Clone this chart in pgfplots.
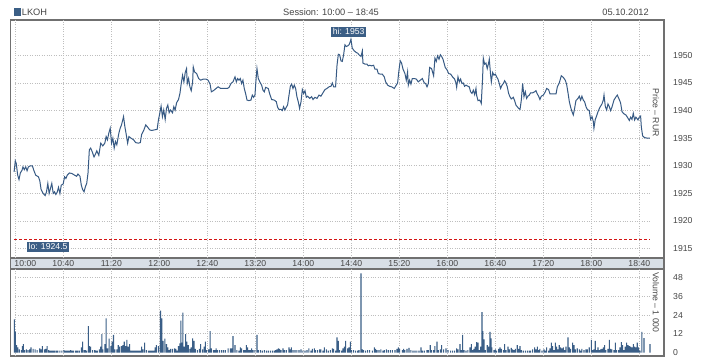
\documentclass[border=0pt]{standalone}
\usepackage{fontspec}
\setmainfont{Liberation Sans}
\usepackage{pgfplots}
\pgfplotsset{compat=1.18}
\definecolor{linec}{RGB}{55,90,132}
\definecolor{barc}{RGB}{58,94,135}
\definecolor{boxc}{RGB}{59,94,133}
\definecolor{framec}{RGB}{112,112,112}
\definecolor{gridc}{RGB}{190,190,190}
\definecolor{bandc}{RGB}{216,223,230}
\definecolor{txt}{RGB}{70,70,70}
\definecolor{lored}{RGB}{210,20,20}
\newcommand{\tf}{\fontsize{8.7}{9}\selectfont}
\newcommand{\hf}{\fontsize{9.3}{10}\selectfont}
\tikzset{gridl/.style={gridc, line width=0.8bp, dash pattern=on 1bp off 1.4bp}}
\pgfplotsset{
  panel/.style={
    scale only axis, width=653.5bp, xmin=-4, xmax=540.6,
    axis line style={draw=framec, line width=1.1bp},
    major tick length=0pt, tick style={draw=none},
    yticklabel pos=right,
    yticklabel style={anchor=west, inner sep=0pt, xshift=9bp, /pgf/number format/1000 sep={}},
    ticklabel style={font=\tf, text=txt},
    /pgf/number format/assume math mode=true,
  },
}
\begin{document}
\begin{tikzpicture}[x=1bp,y=1bp]
\fill[white] (0,0) rectangle (718,360);
\path[use as bounding box] (0,0) rectangle (718,360);
\fill[bandc] (10.5,91) rectangle (664,102);
\draw[framec, line width=1.1bp] (10.5,91) rectangle (664,102);
\fill[boxc] (14,344.3) rectangle (21.3,351.7);
\node[anchor=base west, inner sep=0, font=\hf, text=txt] at (21.7,344.3) {LKOH};
\node[anchor=base, inner sep=0, font=\hf, text=txt] at (331,344.3) {Session: 10:00 – 18:45};
\node[anchor=base east, inner sep=0, font=\hf, text=txt] at (649,344.3) {05.10.2012};

\begin{axis}[panel, at={(10.5bp,102bp)}, anchor=south west, height=238bp,
  ymin=1913.3, ymax=1956.4,
  xtick={40,80,120,160,200,240,280,320,360,400,440,480,520},
  xticklabels={10:40,11:20,12:00,12:40,13:20,14:00,14:40,15:20,16:00,16:40,17:20,18:00,18:40},
  extra x ticks={0}, extra x tick labels={10:00},
  extra x tick style={xticklabel style={xshift=10bp}},
  xticklabel style={anchor=north, inner sep=0pt, yshift=-2.2bp},
  ytick={1915,1920,1925,1930,1935,1940,1945,1950},
]
\pgfplotsinvokeforeach{0,40,80,120,160,200,240,280,320,360,400,440,480,520}{
  \draw[gridl] (axis cs:#1,1913.3) -- (axis cs:#1,1956.4);}
\pgfplotsinvokeforeach{1915,1920,1925,1930,1935,1940,1945,1950}{
  \draw[gridl] (axis cs:0,#1) -- (axis cs:529,#1);}
\draw[lored, line width=1bp, dash pattern=on 3bp off 2bp] (axis cs:-1,1916.7) -- (axis cs:529,1916.7);
\addplot[linec, line width=1bp, no markers, sharp plot] table {
x y
-1.0 1928.9
0.0 1930.9
0.8 1930.4
2.0 1928.3
3.1 1927.5
4.2 1928.7
5.6 1929.2
6.4 1929.8
7.5 1929.3
8.7 1929.8
9.8 1929.1
10.9 1929.8
12.6 1930.0
14.2 1930.0
15.4 1929.2
17.0 1928.3
19.3 1928.0
20.4 1927.3
21.5 1925.7
23.2 1925.0
24.9 1924.6
26.0 1925.3
27.1 1926.8
28.2 1925.0
29.3 1925.9
30.4 1926.8
31.6 1925.0
32.7 1925.3
33.8 1924.8
34.9 1925.2
36.0 1926.1
37.2 1925.0
38.3 1926.5
39.9 1926.7
41.1 1928.0
42.2 1927.7
43.3 1928.3
45.0 1928.7
47.2 1928.6
49.4 1928.3
51.1 1928.1
52.2 1928.5
53.9 1928.1
55.0 1926.5
56.1 1925.7
57.3 1925.3
58.4 1926.2
59.5 1926.8
60.6 1928.7
61.7 1932.9
62.8 1933.2
64.0 1932.6
65.6 1931.6
66.8 1932.1
67.9 1932.7
69.6 1931.9
71.2 1934.1
72.9 1933.6
74.6 1934.1
75.7 1935.3
76.8 1934.7
77.9 1935.9
79.1 1936.8
80.2 1934.1
81.3 1935.0
82.4 1933.2
83.5 1934.4
84.6 1933.8
86.3 1935.9
87.4 1936.8
88.5 1937.4
90.2 1938.9
91.3 1937.1
92.5 1935.6
93.6 1934.1
94.7 1935.3
96.4 1935.0
98.6 1934.7
100.3 1934.2
102.5 1934.1
104.2 1934.2
105.3 1935.7
107.0 1936.4
108.7 1937.4
110.3 1937.0
112.0 1936.5
113.7 1936.4
115.9 1936.5
118.2 1936.6
119.3 1938.3
120.4 1939.5
121.5 1940.8
122.6 1938.9
123.7 1940.1
124.9 1938.4
126.0 1940.4
127.1 1941.0
128.2 1939.6
129.3 1940.1
131.0 1939.6
132.1 1940.7
133.2 1940.1
134.4 1941.4
136.0 1942.0
137.2 1943.1
138.3 1944.9
139.4 1946.4
140.5 1945.2
141.6 1946.9
142.7 1947.6
143.3 1944.9
144.4 1945.8
145.5 1944.3
146.6 1943.6
147.8 1945.2
148.3 1947.9
149.4 1947.0
151.1 1946.7
152.8 1945.8
154.5 1945.5
156.7 1945.7
158.9 1945.7
160.6 1945.5
162.3 1944.8
163.4 1943.4
165.1 1943.6
167.3 1944.0
169.0 1944.3
171.2 1944.0
174.0 1944.0
176.8 1944.0
178.1 1944.2
179.7 1944.9
181.4 1945.2
183.1 1946.1
184.2 1945.2
185.3 1945.8
186.4 1945.5
187.5 1945.8
188.6 1944.9
189.7 1945.5
190.8 1944.0
191.9 1943.1
193.1 1941.9
194.7 1941.8
196.4 1941.9
197.5 1942.8
198.6 1942.4
199.7 1942.8
200.8 1946.1
201.4 1947.6
202.5 1945.8
204.2 1945.0
205.3 1944.6
206.4 1943.7
207.5 1943.4
208.6 1944.2
210.8 1944.0
211.9 1943.1
213.6 1942.0
215.8 1941.9
217.5 1941.6
218.6 1940.6
219.7 1940.2
221.4 1940.2
222.5 1940.0
223.6 1940.7
224.7 1940.1
225.8 1940.6
226.9 1941.0
228.1 1942.8
229.2 1944.4
230.3 1944.8
231.4 1944.0
232.5 1944.6
233.6 1944.0
234.7 1942.5
235.8 1941.6
236.9 1940.4
238.1 1941.6
239.2 1943.8
240.3 1943.1
241.4 1943.6
242.5 1942.4
243.6 1942.6
245.3 1942.2
246.9 1942.5
248.1 1942.0
249.7 1942.4
251.4 1942.2
253.1 1942.8
254.7 1942.6
255.8 1943.0
256.9 1943.4
258.1 1943.8
259.7 1944.0
261.4 1944.3
263.1 1944.4
264.2 1945.0
265.3 1944.3
266.9 1944.3
268.1 1948.2
269.2 1950.2
270.3 1950.1
271.4 1949.0
272.5 1948.9
273.6 1950.1
274.7 1951.9
275.8 1951.6
276.9 1951.7
278.1 1951.9
279.2 1952.5
279.7 1952.9
280.8 1951.3
282.5 1950.8
284.2 1950.5
285.3 1950.4
286.4 1950.1
288.1 1949.8
289.2 1950.8
289.7 1948.6
291.4 1948.4
293.1 1948.4
294.2 1948.1
295.3 1948.2
296.9 1948.1
298.6 1948.2
299.7 1947.5
301.4 1947.5
302.5 1946.7
304.2 1946.6
305.8 1946.6
307.5 1946.1
308.6 1945.2
310.3 1944.6
311.9 1944.4
313.6 1944.3
315.8 1944.0
316.9 1944.4
318.6 1945.0
319.7 1947.3
320.8 1949.0
321.9 1948.6
323.1 1947.5
324.7 1946.7
325.8 1945.5
326.9 1947.0
327.5 1944.6
328.6 1945.5
329.7 1944.8
330.8 1945.8
332.5 1945.8
334.2 1945.7
335.8 1945.2
337.5 1945.5
339.2 1945.8
340.8 1945.0
341.9 1944.9
343.1 1944.3
344.2 1944.9
345.3 1947.8
346.9 1947.6
348.6 1946.3
349.7 1949.5
350.8 1948.9
351.9 1949.9
353.1 1949.3
354.2 1950.1
355.3 1949.8
356.4 1949.3
358.3 1947.8
360.0 1947.3
361.1 1946.7
362.8 1946.6
364.4 1946.1
366.1 1945.7
367.2 1945.0
367.8 1944.2
368.9 1946.1
370.0 1945.2
371.1 1945.7
372.2 1944.9
373.3 1945.0
374.4 1944.4
375.6 1944.6
377.2 1944.4
378.3 1944.3
379.4 1943.4
380.6 1943.1
381.7 1943.7
382.8 1942.9
383.9 1944.0
384.4 1942.8
385.6 1941.8
386.7 1941.9
387.8 1941.6
388.3 1941.3
389.4 1945.8
390.0 1949.5
391.1 1948.4
392.2 1948.6
393.3 1947.6
394.4 1948.6
395.0 1949.3
396.1 1946.4
396.7 1945.2
397.8 1946.9
398.9 1946.4
400.0 1946.6
401.1 1946.1
402.2 1945.7
403.3 1944.9
404.4 1944.0
405.6 1944.6
406.7 1944.9
407.8 1945.4
408.9 1945.0
410.0 1944.3
411.1 1943.1
412.2 1942.5
413.3 1942.1
415.0 1942.4
416.1 1941.8
417.2 1941.0
418.3 1940.7
419.4 1940.4
420.6 1940.2
421.7 1941.9
422.8 1944.9
423.9 1942.5
425.0 1943.4
426.1 1942.2
427.2 1942.6
428.3 1942.8
429.4 1943.2
431.1 1943.2
432.8 1943.4
433.9 1943.6
435.0 1943.0
436.1 1942.6
437.2 1942.0
438.3 1942.6
440.0 1942.8
441.7 1943.4
442.8 1944.0
444.4 1943.8
445.6 1943.0
447.8 1943.0
450.6 1943.0
451.7 1944.3
453.3 1945.0
455.0 1946.3
456.7 1946.0
458.3 1945.5
459.4 1944.8
460.6 1943.2
461.7 1941.6
462.8 1940.6
463.9 1939.8
465.0 1939.2
466.1 1940.4
467.2 1941.8
468.9 1942.2
470.0 1942.6
471.1 1941.9
472.2 1942.6
473.3 1941.9
474.4 1941.6
475.6 1940.7
476.7 1940.2
478.3 1940.0
479.4 1938.4
480.6 1938.9
481.7 1938.0
482.2 1936.8
483.3 1938.4
484.4 1939.0
485.6 1939.8
487.2 1940.6
488.9 1941.2
490.0 1941.9
490.6 1942.8
491.7 1940.7
492.8 1940.1
493.9 1941.2
495.0 1940.7
496.1 1940.0
497.2 1940.6
498.9 1941.9
500.6 1942.5
501.7 1942.8
503.3 1942.0
504.4 1941.4
505.6 1939.8
507.2 1939.4
508.9 1939.2
510.6 1938.6
511.7 1938.2
512.8 1938.8
513.9 1938.4
515.0 1939.5
516.1 1938.3
517.2 1938.8
518.9 1938.3
520.0 1938.8
521.1 1939.0
521.7 1937.0
522.8 1935.4
524.4 1935.1
526.7 1935.0
528.9 1935.0
};
\node[fill=boxc, text=white, font=\tf, inner xsep=2bp, inner ysep=1bp, text height=6.4bp, text depth=1.6bp, anchor=south] at (axis cs:277.8,1953.3) {hi: 1953};
\node[fill=boxc, text=white, font=\tf, inner xsep=2bp, inner ysep=1bp, text height=6.4bp, text depth=1.6bp] at (axis cs:27.3,1915.3) {lo: 1924.5};
\node[rotate=-90, font=\tf, text=txt, inner sep=0pt] at (rel axis cs:0.9878,0.611) {Price – RUR};
\end{axis}

\begin{axis}[panel, at={(10.5bp,4bp)}, anchor=south west, height=87bp,
  ymin=-2.1, ymax=53.3, xtick=\empty,
  ytick={0,12,24,36,48},
]
\pgfplotsinvokeforeach{0,40,80,120,160,200,240,280,320,360,400,440,480,520}{
  \draw[gridl] (axis cs:#1,-2.1) -- (axis cs:#1,53.3);}
\pgfplotsinvokeforeach{12,24,36,48}{
  \draw[gridl] (axis cs:0,#1) -- (axis cs:529,#1);}
\addplot[ybar, bar width=0.9, fill=barc, draw=none] table {
x y
-0.8 21.2
0.0 13.4
1.1 4.9
2.2 3.4
3.4 2.1
5.0 1.7
5.9 4.2
6.7 5.5
7.8 1.7
9.2 2.1
10.6 1.7
12.0 2.1
13.1 3.4
14.8 2.5
16.5 2.1
18.2 1.7
20.4 2.8
21.5 2.1
22.6 4.2
24.3 2.1
25.4 2.5
26.5 4.2
27.7 1.7
28.8 1.3
29.9 1.3
31.0 1.3
32.1 1.3
33.2 1.3
34.4 1.3
35.5 1.3
37.2 1.3
38.8 1.3
40.5 1.7
41.6 1.3
42.7 1.3
43.9 1.3
45.0 1.3
46.1 1.7
47.2 1.3
48.3 1.3
50.0 1.3
51.1 1.3
52.2 1.3
53.4 1.3
55.0 3.4
56.1 7.0
57.3 1.7
58.4 1.7
59.5 1.3
60.9 17.0
61.7 4.2
62.8 3.8
64.5 1.7
66.2 1.7
67.3 1.3
68.4 1.3
70.1 2.1
71.2 3.8
72.1 11.9
72.9 2.1
74.6 5.5
75.7 21.9
76.8 2.8
78.2 8.9
79.6 4.2
80.7 7.0
81.8 11.3
83.0 2.1
84.6 2.1
85.8 4.9
86.9 3.8
88.5 4.2
89.7 4.9
90.8 7.0
91.9 4.2
93.0 8.1
94.1 3.8
95.3 5.5
96.4 1.3
97.5 1.3
98.6 1.3
99.7 1.3
100.8 1.3
102.0 1.3
103.1 1.3
104.2 1.3
105.3 3.8
106.4 2.1
107.8 6.4
109.2 1.7
110.9 1.3
112.0 1.3
113.1 1.3
114.2 1.3
115.4 1.3
116.5 3.4
117.6 4.9
119.3 4.2
121.0 26.8
122.1 21.9
123.2 7.6
124.6 8.9
126.0 5.5
127.1 3.4
128.2 1.7
129.3 2.5
131.0 2.5
132.7 2.8
133.8 2.5
134.9 1.3
136.0 4.2
137.2 5.9
138.0 20.4
138.8 6.4
139.7 25.5
140.8 3.8
141.9 11.9
143.0 7.0
144.1 4.9
145.5 2.5
146.6 3.4
147.8 9.1
148.9 7.6
150.0 2.5
151.7 1.7
153.4 2.5
154.5 5.5
156.1 2.1
157.3 3.8
158.4 7.0
159.5 1.7
161.2 2.1
162.3 13.8
163.4 2.8
165.1 1.7
166.2 1.7
167.3 2.8
168.4 1.7
170.1 1.7
171.8 1.7
173.5 1.7
175.1 1.7
177.4 2.8
179.2 2.8
180.3 2.8
181.4 10.6
183.1 4.9
184.7 1.7
186.4 1.3
187.5 3.4
188.6 2.8
190.3 1.7
191.4 1.7
192.5 4.9
193.6 3.4
194.7 1.7
195.8 1.7
196.9 2.8
198.1 1.7
199.7 1.7
201.4 11.3
202.5 1.7
204.2 1.7
205.8 1.3
207.5 1.7
209.2 1.3
210.8 1.3
212.5 1.3
214.2 1.3
215.8 1.3
216.9 1.7
218.1 2.1
219.2 2.8
220.3 2.5
221.4 1.7
223.1 2.8
224.2 1.7
225.8 1.7
228.1 3.4
229.2 2.1
230.0 3.4
231.4 1.7
233.1 1.7
234.7 1.7
236.4 1.7
238.1 2.1
239.7 1.3
241.4 1.3
243.1 1.7
244.7 2.8
246.4 1.3
247.5 2.5
249.2 2.8
250.3 1.7
251.9 1.7
253.6 2.1
254.7 2.1
256.4 1.3
257.5 3.4
259.2 2.1
260.8 1.3
262.5 1.7
264.2 2.8
265.3 2.5
266.9 1.3
268.1 9.8
269.2 7.6
270.3 1.7
271.9 1.3
273.1 2.8
274.2 3.8
275.3 7.6
276.9 2.8
278.1 3.4
279.2 7.0
280.3 1.7
281.9 1.7
283.6 1.3
285.3 1.3
286.4 1.7
288.1 50.5
289.2 2.1
290.3 1.7
291.9 1.3
293.6 1.7
295.3 1.7
297.5 1.3
299.2 3.4
300.3 2.5
301.4 1.7
303.1 1.7
304.7 2.1
306.4 1.3
307.5 1.7
309.2 2.1
310.8 1.7
312.5 1.7
314.2 1.7
316.4 1.7
318.1 2.5
319.2 3.4
320.3 2.5
322.5 1.7
323.6 2.5
324.7 1.7
326.4 2.5
328.1 3.0
329.7 1.7
331.4 1.3
333.1 1.3
334.7 1.3
336.4 1.3
338.1 3.4
339.2 1.3
340.8 1.3
343.1 1.7
344.2 1.7
345.8 4.9
346.9 1.7
348.6 1.7
349.7 4.2
351.4 7.0
352.5 1.7
354.2 2.1
355.3 4.9
356.9 2.1
358.9 2.8
360.6 1.7
362.8 1.3
364.4 1.3
366.1 1.3
367.8 2.8
368.9 2.1
370.6 5.5
371.7 1.7
372.8 11.3
373.9 1.7
375.6 1.3
377.2 1.7
378.9 3.4
380.0 5.5
381.1 1.7
382.2 2.5
383.3 3.8
384.4 6.8
385.6 6.4
386.7 1.7
387.8 3.8
388.9 25.9
389.7 13.8
390.6 8.5
391.7 1.7
393.3 4.9
394.4 3.8
395.6 13.2
396.4 9.1
397.2 3.4
398.9 1.7
400.0 2.1
401.1 1.3
402.8 2.5
403.9 3.4
405.0 2.5
406.7 1.7
407.8 5.5
408.9 1.7
410.6 3.8
411.7 2.1
413.3 3.0
414.4 2.1
415.6 1.7
416.7 2.5
418.3 4.9
419.4 2.5
420.6 4.2
421.7 1.7
423.3 1.3
425.0 1.3
426.7 1.3
428.3 1.3
429.4 1.3
431.1 2.1
432.8 3.4
433.9 2.1
435.0 3.8
436.1 1.7
437.2 2.5
438.9 1.3
440.6 2.1
441.7 1.3
442.8 3.4
444.4 1.3
445.6 2.8
446.7 6.4
447.8 4.2
448.9 1.7
450.0 6.4
451.1 3.8
452.2 2.1
453.3 4.9
454.4 3.4
455.6 2.8
456.7 3.4
457.8 1.7
458.9 3.8
460.6 9.8
461.7 3.4
462.8 2.5
464.4 6.4
465.6 4.9
466.7 2.1
468.3 2.8
470.0 2.1
471.1 1.3
472.2 2.5
473.9 1.7
475.6 2.1
476.7 2.1
478.3 3.4
480.0 8.1
481.1 1.7
482.2 2.1
483.3 7.6
484.4 1.7
485.6 3.4
486.7 1.7
487.8 2.1
488.9 2.5
490.0 3.4
491.1 4.9
492.2 1.7
493.9 2.5
495.0 8.1
496.1 2.5
497.2 2.1
498.9 1.7
500.0 6.4
501.1 1.7
502.8 1.7
503.9 3.4
505.0 6.8
506.1 4.9
507.2 1.7
508.3 3.8
509.4 6.4
510.6 4.9
511.7 4.2
512.8 3.8
513.9 3.4
515.0 5.5
516.1 3.8
517.2 3.4
518.3 6.4
519.4 3.4
520.6 1.3
522.2 13.2
523.9 9.3
528.9 5.5
};
\node[rotate=-90, font=\tf, text=txt, inner sep=0pt] at (rel axis cs:0.9878,0.615) {Volume – 1 000};
\end{axis}
\end{tikzpicture}
\end{document}
